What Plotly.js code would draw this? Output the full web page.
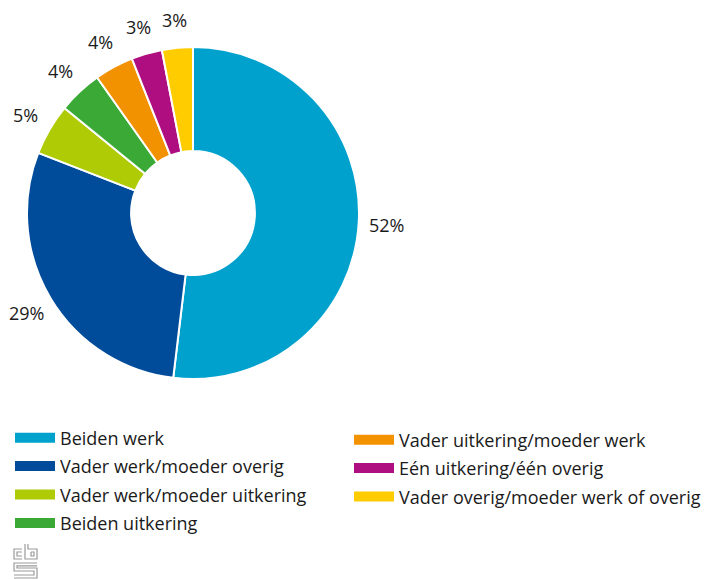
<!DOCTYPE html>
<html>
<head>
<meta charset="utf-8">
<script src="https://cdn.plot.ly/plotly-3.0.1.min.js"></script>
<style>html,body{margin:0;padding:0;background:#fff;}#chart{width:708px;height:579px;}</style>
</head>
<body>
<div id="chart"></div>
<script>
// Data
const categories = [
  "Beiden werk",
  "Vader werk/moeder overig",
  "Vader werk/moeder uitkering",
  "Beiden uitkering",
  "Vader uitkering/moeder werk",
  "Eén uitkering/één overig",
  "Vader overig/moeder werk of overig"
];
const values = [51.9, 29.0, 5.0, 4.3, 3.8, 3.0, 3.0];
const colors = ["#00a1cd", "#004c9b", "#afcb05", "#3aa935", "#f39200", "#af0e80", "#ffcc00"];
const legendColumn = ["legend", "legend", "legend", "legend", "legend2", "legend2", "legend2"];

const W = 708, H = 579;
const FONT = "Open Sans, sans-serif";
const TEXT = "#1a1a1a";

// pie geometry (pixels)
const pieLeft = 27, pieRight = 359, pieTop = 47, pieBottom = 379;
const cx = (pieLeft + pieRight) / 2, cy = (pieTop + pieBottom) / 2;
const labelR = 194;

const pie = {
  type: "pie",
  labels: categories,
  values: values,
  sort: false,
  direction: "clockwise",
  rotation: 0,
  hole: 0.373,
  marker: { colors: colors, line: { color: "#ffffff", width: 2 } },
  textposition: "none",
  showlegend: false,
  domain: { x: [pieLeft / W, pieRight / W], y: [1 - pieBottom / H, 1 - pieTop / H] },
  hoverinfo: "label+percent"
};

// percentage labels placed at each slice's mid-angle, derived from the values
const total = values.reduce((a, b) => a + b, 0);
let cum = 0;
const annotations = values.map(v => {
  const mid = (cum + v / 2) / total * 2 * Math.PI;
  cum += v;
  const px = cx + labelR * Math.sin(mid);
  const py = cy - labelR * Math.cos(mid);
  return {
    xref: "paper", yref: "paper",
    x: px / W, y: 1 - py / H,
    xanchor: "center", yanchor: "middle",
    showarrow: false,
    text: Math.round(v / total * 100) + "%",
    font: { family: FONT, size: 18, color: TEXT }
  };
});

const legendTraces = categories.map((c, i) => ({
  type: "scatter",
  mode: "lines",
  x: [null], y: [null],
  name: c,
  legend: legendColumn[i],
  legendgroup: "g" + i,
  line: { color: colors[i], width: 16 },
  hoverinfo: "skip"
}));

// CBS logo (decorative), pixel coords converted to paper
function P(pts) {
  return pts.map((p, k) => (k === 0 ? "M" : "L") + (p[0] / W).toFixed(4) + "," + (1 - p[1] / H).toFixed(4)).join(" ");
}
const logoPaths = [
  P([[22, 549], [14, 549], [14, 559], [22, 559]]),
  P([[22, 552], [17, 552], [17, 556], [22, 556]]),
  P([[25, 544], [25, 559], [37, 559], [37, 549], [28, 549], [28, 544]]),
  P([[31, 552], [34, 552], [34, 556], [31, 556], [31, 552]]),
  P([[37, 563], [14, 563], [14, 571], [34, 571], [34, 575], [14, 575]]),
  P([[37, 566], [17, 566], [17, 568], [37, 568], [37, 578], [14, 578]])
];
const shapes = logoPaths.map(d => ({
  type: "path", xref: "paper", yref: "paper", path: d,
  line: { color: "#9a9a9a", width: 1.2 }, fillcolor: "rgba(0,0,0,0)"
}));

const legendBase = {
  orientation: "v",
  font: { family: FONT, size: 18, color: TEXT },
  bgcolor: "rgba(0,0,0,0)",
  tracegroupgap: 2,
  itemwidth: 40,
  xanchor: "left", yanchor: "top"
};

const layout = {
  width: W, height: H,
  margin: { l: 0, r: 0, t: 0, b: 0 },
  paper_bgcolor: "#ffffff",
  plot_bgcolor: "#ffffff",
  xaxis: { visible: false },
  yaxis: { visible: false },
  legend: Object.assign({}, legendBase, { x: 10 / W, y: 1 - 419.5 / H }),
  legend2: Object.assign({}, legendBase, { x: 349 / W, y: 1 - 421.5 / H }),
  annotations: annotations,
  shapes: shapes
};

Plotly.newPlot("chart", [pie].concat(legendTraces), layout, { displayModeBar: false, staticPlot: true });
</script>
</body>
</html>
